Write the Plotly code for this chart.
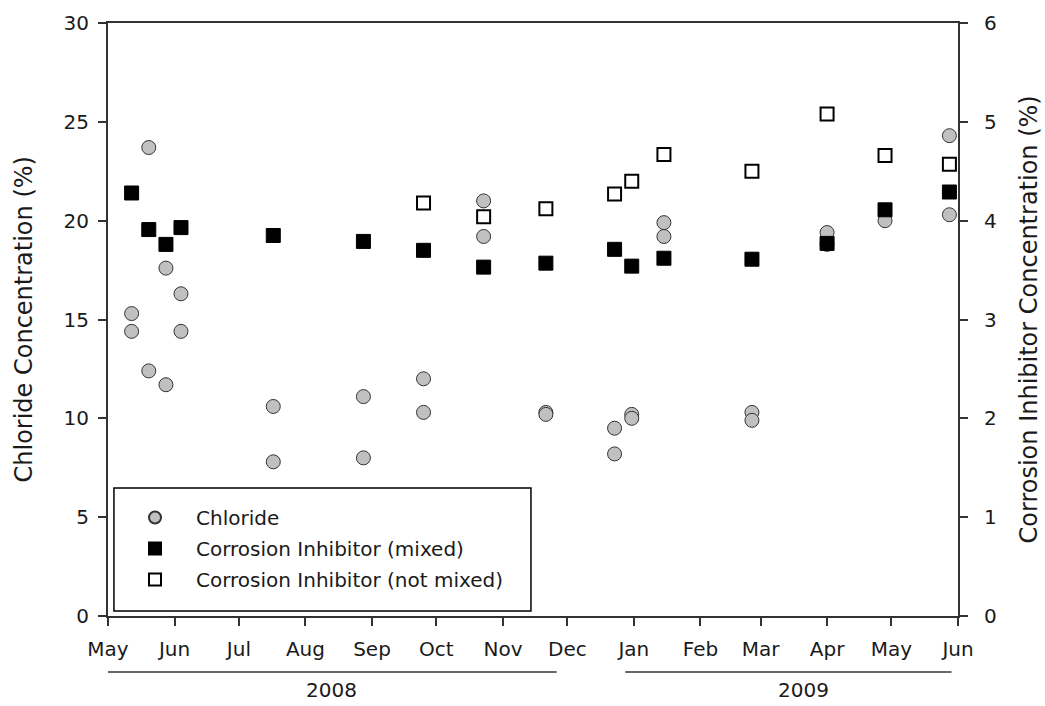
import plotly.graph_objects as go

# ---------------- data ----------------
chloride_dates = [
    "2008-05-12", "2008-05-12", "2008-05-20", "2008-05-20", "2008-05-28", "2008-05-28",
    "2008-06-04", "2008-06-04", "2008-07-17", "2008-07-17", "2008-08-28", "2008-08-28",
    "2008-09-25", "2008-09-25", "2008-10-23", "2008-10-23", "2008-11-21", "2008-11-21",
    "2008-12-23", "2008-12-23", "2008-12-31", "2008-12-31", "2009-01-15", "2009-01-15",
    "2009-02-25", "2009-02-25", "2009-04-01", "2009-04-01", "2009-04-28",
    "2009-05-28", "2009-05-28",
]
chloride_values = [
    15.3, 14.4, 23.7, 12.4, 17.6, 11.7,
    16.3, 14.4, 10.6, 7.8, 11.1, 8.0,
    12.0, 10.3, 21.0, 19.2, 10.3, 10.2,
    9.5, 8.2, 10.2, 10.0, 19.9, 19.2,
    10.3, 9.9, 19.4, 18.8, 20.0,
    24.3, 20.3,
]

mixed_dates = [
    "2008-05-12", "2008-05-20", "2008-05-28", "2008-06-04", "2008-07-17", "2008-08-28",
    "2008-09-25", "2008-10-23", "2008-11-21", "2008-12-23", "2008-12-31", "2009-01-15",
    "2009-02-25", "2009-04-01", "2009-04-28", "2009-05-28",
]
mixed_values = [
    4.28, 3.91, 3.76, 3.93, 3.85, 3.79,
    3.70, 3.53, 3.57, 3.71, 3.54, 3.62,
    3.61, 3.77, 4.11, 4.29,
]

notmixed_dates = [
    "2008-09-25", "2008-10-23", "2008-11-21", "2008-12-23", "2008-12-31",
    "2009-01-15", "2009-02-25", "2009-04-01", "2009-04-28", "2009-05-28",
]
notmixed_values = [4.18, 4.04, 4.12, 4.27, 4.40, 4.67, 4.50, 5.08, 4.66, 4.57]

month_ticks = [
    "2008-05-01", "2008-06-01", "2008-07-01", "2008-08-01", "2008-09-01", "2008-10-01",
    "2008-11-01", "2008-12-01", "2009-01-01", "2009-02-01", "2009-03-01", "2009-04-01",
    "2009-05-01", "2009-06-01",
]
month_labels = ["May", "Jun", "Jul", "Aug", "Sep", "Oct", "Nov", "Dec",
                "Jan", "Feb", "Mar", "Apr", "May", "Jun"]

years = ["2008", "2009"]
year_spans = [("2008-05-01", "2008-11-26"), ("2008-12-28", "2009-05-29")]
year_centers = ["2008-08-13", "2009-03-21"]

# ---------------- figure ----------------
FONT = "DejaVu Sans"
AX = "#333333"
TXT = "#1a1a1a"

fig = go.Figure()
fig.add_trace(go.Scatter(
    x=chloride_dates, y=chloride_values, mode="markers", name="Chloride",
    legendgroup="a",
    marker=dict(symbol="circle", size=14, color="#c0c0c0",
                line=dict(color="#333333", width=1)),
    yaxis="y",
))
fig.add_trace(go.Scatter(
    x=mixed_dates, y=mixed_values, mode="markers", name="Corrosion Inhibitor (mixed)",
    legendgroup="b",
    marker=dict(symbol="square", size=14, color="#000000",
                line=dict(color="#000000", width=1)),
    yaxis="y2",
))
fig.add_trace(go.Scatter(
    x=notmixed_dates, y=notmixed_values, mode="markers",
    name="Corrosion Inhibitor (not mixed)", legendgroup="c",
    marker=dict(symbol="square", size=13, color="#ffffff",
                line=dict(color="#000000", width=2)),
    yaxis="y2",
))

shapes = []
for (a, b) in year_spans:
    shapes.append(dict(type="line", xref="x", yref="paper", x0=a, x1=b,
                       y0=-0.0944, y1=-0.0944, line=dict(color=AX, width=1.5)))
# legend frame
shapes.append(dict(type="rect", xref="paper", yref="paper",
                   x0=0.007, x1=0.4976, y0=0.0084, y1=0.2159,
                   line=dict(color="#000000", width=1.5), fillcolor="rgba(0,0,0,0)"))

annotations = []
for yr, c in zip(years, year_centers):
    annotations.append(dict(text=yr, x=c, xref="x", y=-0.125, yref="paper",
                            showarrow=False, xanchor="center", yanchor="middle",
                            font=dict(family=FONT, size=20, color=TXT)))
annotations.append(dict(text="Chloride Concentration (%)", textangle=-90,
                        x=-0.1, xref="paper", y=0.5, yref="paper",
                        showarrow=False, xanchor="center", yanchor="middle",
                        font=dict(family=FONT, size=24, color=TXT)))
annotations.append(dict(text="Corrosion Inhibitor Concentration (%)", textangle=-90,
                        x=1.0835, xref="paper", y=0.5, yref="paper",
                        showarrow=False, xanchor="center", yanchor="middle",
                        font=dict(family=FONT, size=24, color=TXT)))

fig.update_layout(
    width=1045, height=706,
    margin=dict(l=108, r=87, t=23, b=90, autoexpand=False),
    paper_bgcolor="white", plot_bgcolor="white",
    font=dict(family=FONT, size=20, color=TXT),
    showlegend=True,
    legend=dict(x=0.00706, y=0.199, xanchor="left", yanchor="top",
                bgcolor="rgba(0,0,0,0)", borderwidth=0,
                font=dict(family=FONT, size=20, color=TXT),
                tracegroupgap=2, itemsizing="constant", itemwidth=72),
    xaxis=dict(type="date", range=["2008-05-01", "2009-06-01"],
               tickmode="array", tickvals=month_ticks, ticktext=month_labels,
               showgrid=False, zeroline=False,
               showline=True, linecolor=AX, linewidth=2, mirror=True,
               ticks="outside", ticklen=8, tickwidth=1.5, tickcolor=AX,
               ticklabelstandoff=6,
               tickfont=dict(family=FONT, size=20, color=TXT)),
    yaxis=dict(range=[0, 30], tickmode="array", tickvals=[0, 5, 10, 15, 20, 25, 30],
               showgrid=False, zeroline=False,
               showline=True, linecolor=AX, linewidth=2,
               ticks="outside", ticklen=8, tickwidth=1.5, tickcolor=AX,
               ticklabelstandoff=5,
               tickfont=dict(family=FONT, size=20, color=TXT)),
    yaxis2=dict(range=[0, 6], tickmode="array", tickvals=[0, 1, 2, 3, 4, 5, 6],
                overlaying="y", side="right", anchor="x",
                showgrid=False, zeroline=False,
                showline=True, linecolor=AX, linewidth=2,
                ticks="outside", ticklen=8, tickwidth=1.5, tickcolor=AX,
                ticklabelstandoff=12,
                tickfont=dict(family=FONT, size=20, color=TXT)),
    shapes=shapes, annotations=annotations,
)

fig.write_html("out.html")
